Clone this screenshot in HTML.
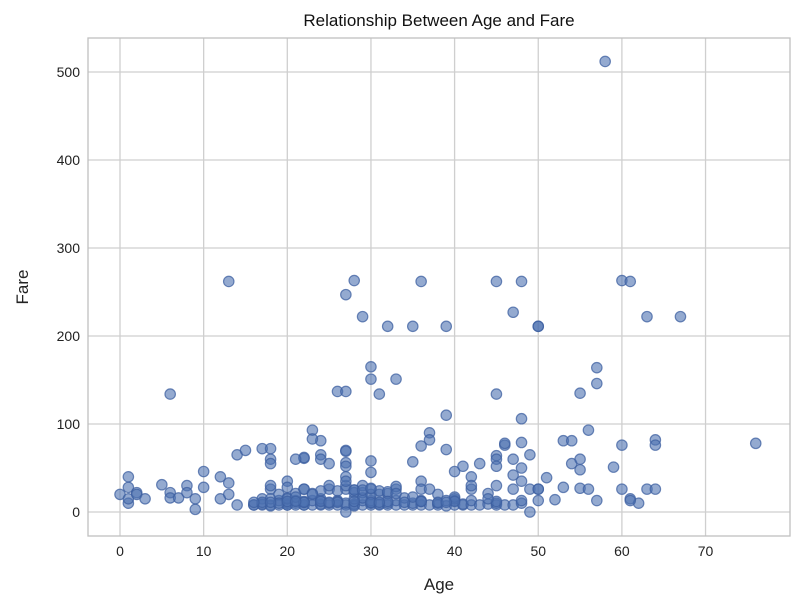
<!DOCTYPE html>
<html><head><meta charset="utf-8"><style>
body{margin:0;background:#fff;}
svg{display:block;font-family:"Liberation Sans",Arial,sans-serif;}
</style></head><body>
<svg id="chart" width="800" height="609"></svg>
<script>
const ages=[58,13,6,27,28,29,32,35,36,39,45,47,48,50,50,60,61,63,67,76,26,27,30,30,31,33,45,55,57,57,39,48,23,24,23,14,15,17,18,18,18,22,22,24,24,25,27,27,27,27,30,30,35,36,36,37,37,39,40,41,42,43,45,45,45,45,46,46,47,47,48,48,48,49,49,49,50,51,53,53,54,54,55,55,55,56,56,57,59,60,60,61,62,61,63,64,64,64,
0,1,1,1,1,2,2,3,5,6,6,7,8,8,9,9,10,10,12,13,13,12,14,16,17,17,18,18,18,20,20,20,21,21,22,22,
16,17,18,19,19,20,21,21,22,22,23,23,24,24,24,25,25,26,26,27,27,28,28,28,29,29,30,30,30,31,31,32,32,33,33,34,35,35,36,36,37,38,38,39,39,40,40,41,41,42,42,43,44,45,45,46,47,48,50,
18,19,20,21,22,23,24,25,26,27,28,29,30,31,32,33,34,36,38,40,42,44,47,
19,20,22,24,26,28,28,29,30,31,32,33,35,36,37,40,42,45,48,50,27,27,20,25,29,33,17,44,52,21,23,
18,20,22,24,26,28,30,32,34,36,38,40,16,21,25,31,39,27,27,28,29,30];
const fares=[512,262,134,247,263,222,211,211,262,211,262,227,262,211,211,263,262,222,222,78,137,137,165,151,134,151,134,135,164,146,110,106,93,81,83,65,70,72,72,60,55,61,62,65,60,55,70,69,56,52,58,45,57,75,35,90,82,71,46,52,40,55,64,60,52,30,76,78,60,42,79,50,35,65,26,0,26,39,81,28,81,55,60,48,27,93,26,13,51,76,26,15,10,13,26,82,76,26,
20,10,15,28,40,22,20,15,31,22,16,16,30,22,3,15,46,28,15,20,33,40,8,8,8,15,8,26,30,8,10,35,10,60,8,26,
8,9,7,8,13,8,8,13,8,11,8,13,8,9,13,8,10,8,13,8,10,8,9,7,8,13,8,10,13,8,9,8,10,8,13,8,8,10,8,13,8,8,10,7,13,8,13,8,9,8,13,8,9,8,10,8,8,10,13,
15,20,16,21,26,21,15,26,24,26,25,22,26,20,21,26,16,26,20,15,26,21,26,
10,15,12,24,12,15,22,16,20,24,23,29,17,12,26,17,30,12,13,26,0,30,28,30,30,21,11,15,14,17,20,
11,12,11,12,11,12,11,12,11,12,11,12,11,12,11,11,11,40,35,25,25,27];
const xTicks=[0,10,20,30,40,50,60,70];
const yTicks=[0,100,200,300,400,500];
const svg=document.getElementById('chart');
const NS='http://www.w3.org/2000/svg';
const L=88,R=790,T=38,B=536;
const xs=a=>120+a*8.365;
const ys=f=>512-f*0.88;
function mk(tag,at,parent){const e=document.createElementNS(NS,tag);for(const k in at)e.setAttribute(k,at[k]);(parent||svg).appendChild(e);return e;}
const grid=mk('g',{});


xTicks.forEach(t=>{const l=mk('line',{x1:xs(t),x2:xs(t),y1:T,y2:B,stroke:'#cfcfcf','stroke-width':1.3},grid);


const tx=mk('text',{x:xs(t),y:B+20,'text-anchor':'middle','font-size':14,fill:'#222'});tx.textContent=t;

});
yTicks.forEach(t=>{const l=mk('line',{x1:L,x2:R,y1:ys(t),y2:ys(t),stroke:'#cfcfcf','stroke-width':1.3},grid);


const tx=mk('text',{x:L-8,y:ys(t)+5,'text-anchor':'end','font-size':14,fill:'#222'});tx.textContent=t;

});
const fr=mk('rect',{x:L,y:T,width:R-L,height:B-T,fill:'none',stroke:'#c0c0c0','stroke-width':1.3});


const pts=mk('g',{});


ages.forEach((a,i)=>{const c=mk('circle',{cx:xs(a),cy:ys(fares[i]),r:5.2,fill:'rgba(76,114,176,0.6)',stroke:'rgba(60,95,160,0.75)','stroke-width':1.2},pts);

});
const ti=mk('text',{x:439,y:26,'text-anchor':'middle','font-size':17,fill:'#111'});ti.textContent='Relationship Between Age and Fare';


const xl=mk('text',{x:439,y:590,'text-anchor':'middle','font-size':17,fill:'#222'});xl.textContent='Age';


const yl=mk('text',{x:28,y:287,'text-anchor':'middle','font-size':17,fill:'#222',transform:'rotate(-90 28 287)'});yl.textContent='Fare';


</script>
</body></html>
